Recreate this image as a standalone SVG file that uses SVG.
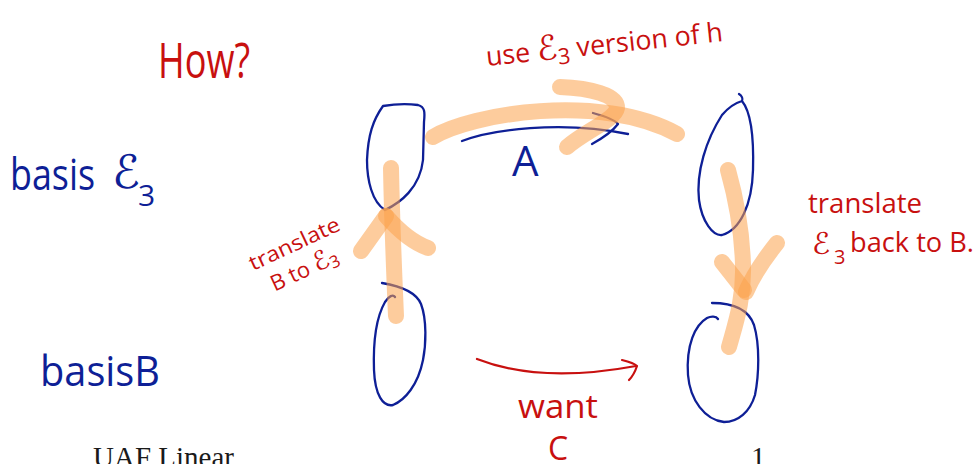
<svg xmlns="http://www.w3.org/2000/svg" width="980" height="464" viewBox="0 0 980 464">
  <style>
    .ink-blue { fill: none; stroke: #0e1f96; stroke-width: 2.3; stroke-linecap: round; stroke-linejoin: round; }
    .ink-red { fill: none; stroke: #c8100f; stroke-width: 2.2; stroke-linecap: round; stroke-linejoin: round; }
    .hl { fill: none; stroke: #fba24c; stroke-opacity: 0.55; stroke-width: 16; stroke-linecap: round; stroke-linejoin: round; }
    .hand { font-family: "Open Sans", "DejaVu Sans", sans-serif; }
    .t-red { fill: #c8100f; }
    .t-blue { fill: #0e1f96; }
    .script { font-family: "DejaVu Sans", "Noto Sans", sans-serif; }
    .footer { font-family: "Liberation Serif", "DejaVu Serif", serif; fill: #1a1a1a; font-size: 29px; }
  </style>

  <rect width="980" height="464" fill="#ffffff"/>

  <!-- headline -->
  <g id="title">
    <text class="hand t-red" x="158" y="78" font-size="50" textLength="92" lengthAdjust="spacingAndGlyphs">How?</text>
  </g>

  <!-- row labels -->
  <g id="label-basis-e3">
    <text class="hand t-blue" x="10" y="190" font-size="44" textLength="85" lengthAdjust="spacingAndGlyphs">basis</text>
    <text class="script t-blue" x="112" y="188" font-size="46">ℰ</text>
    <text class="hand t-blue" x="138" y="206" font-size="30">3</text>
  </g>
  <g id="label-basis-b">
    <text class="hand t-blue" x="40" y="386" font-size="42" textLength="120" lengthAdjust="spacingAndGlyphs">basisB</text>
  </g>

  <!-- vector spaces drawn as loops -->
  <g id="node-e3-left">
    <path class="ink-blue" d="M383,106 C395,104 410,104 418,105 C425,107 425,112 424,122 L423,160 C420,188 400,203 385,210 C372,202 367,180 367,160 C368,135 373,120 383,106 Z"/>
  </g>
  <g id="node-e3-right">
    <path class="ink-blue" d="M739,94 C742,96 743,99 742,101 C735,103 728,108 722,115 C706,140 696,172 699,200 C702,222 713,236 722,235 C740,230 752,205 753,170 C754,135 751,112 742,101"/>
  </g>
  <g id="node-b-left">
    <path class="ink-blue" d="M382,283 C400,286 416,292 421,304 C427,320 426,345 423,360 C418,385 405,400 393,405 C383,407 375,395 374,370 C373,340 377,316 385,302 C389,296 393,294 395,297"/>
  </g>
  <g id="node-b-right">
    <path class="ink-blue" d="M712,303 C730,303 748,308 754,325 C760,345 759,375 755,395 C750,412 738,422 724,422 C705,420 690,400 688,375 C686,345 695,325 707,318 C711,316 716,316 718,319"/>
  </g>

  <!-- maps between the spaces -->
  <g id="connectors">
    <!-- A : top map -->
    <path class="ink-blue" d="M462,141 C490,130 560,120 628,134"/>
    <path class="ink-blue" d="M593,113 C604,116 614,119 618,124 C612,132 601,139 592,144"/>
    <!-- C : wanted map -->
    <path class="ink-red" d="M477,359 C510,372 560,380 636,366"/>
    <path class="ink-red" d="M622,360 C630,362 635,364 637,366 C635,372 632,377 629,380"/>

    <!-- highlighter route: up, across, down -->
    <path class="hl" d="M433,137 C470,114 600,92 677,134"/>
    <path class="hl" d="M560,87 C590,88 618,95 617,108 C615,120 585,131 567,147"/>
    <path class="hl" d="M391,168 C392,220 394,270 396,316"/>
    <path class="hl" d="M361,251 L386,216"/>
    <path class="hl" d="M386,216 C400,232 414,243 428,248"/>
    <path class="hl" d="M728,170 C735,195 742,230 743,265 C744,300 735,325 729,347"/>
    <path class="hl" d="M722,262 L744,290"/>
    <path class="hl" d="M777,243 C765,258 752,278 746,292"/>
  </g>

  <!-- map labels -->
  <g id="label-top">
    <text class="hand t-red" x="487" y="66" font-size="27" transform="rotate(-6 487 66)" textLength="238" lengthAdjust="spacingAndGlyphs">use <tspan class="script" font-size="34">ℰ</tspan><tspan font-size="22" dy="6">3</tspan><tspan dy="-6"> version of h</tspan></text>
  </g>
  <g id="label-a">
    <text class="hand t-blue" x="512" y="176" font-size="42">A</text>
  </g>
  <g id="label-left" transform="rotate(-25 253 271)">
    <text class="hand t-red" x="253" y="271" font-size="21" textLength="98" lengthAdjust="spacingAndGlyphs">translate</text>
    <text class="hand t-red" x="264" y="299" font-size="22">B to <tspan class="script" font-size="26">ℰ</tspan><tspan font-size="17" dy="4">3</tspan></text>
  </g>
  <g id="label-right">
    <text class="hand t-red" x="808" y="213" font-size="28" textLength="114" lengthAdjust="spacingAndGlyphs">translate</text>
    <text class="script t-red" x="812" y="254" font-size="30">ℰ</text>
    <text class="hand t-red" x="834" y="264" font-size="20">3</text>
    <text class="hand t-red" x="850" y="252" font-size="28" textLength="124" lengthAdjust="spacingAndGlyphs">back to B.</text>
  </g>
  <g id="label-bottom">
    <text class="hand t-red" x="518" y="418" font-size="32" textLength="80" lengthAdjust="spacingAndGlyphs">want</text>
    <text class="hand t-red" x="548" y="460" font-size="32">C</text>
  </g>

  <!-- slide footer -->
  <g id="footer">
    <text class="footer" x="93" y="467">UAF Linear</text>
    <text class="footer" x="751" y="467">1</text>
  </g>
</svg>
